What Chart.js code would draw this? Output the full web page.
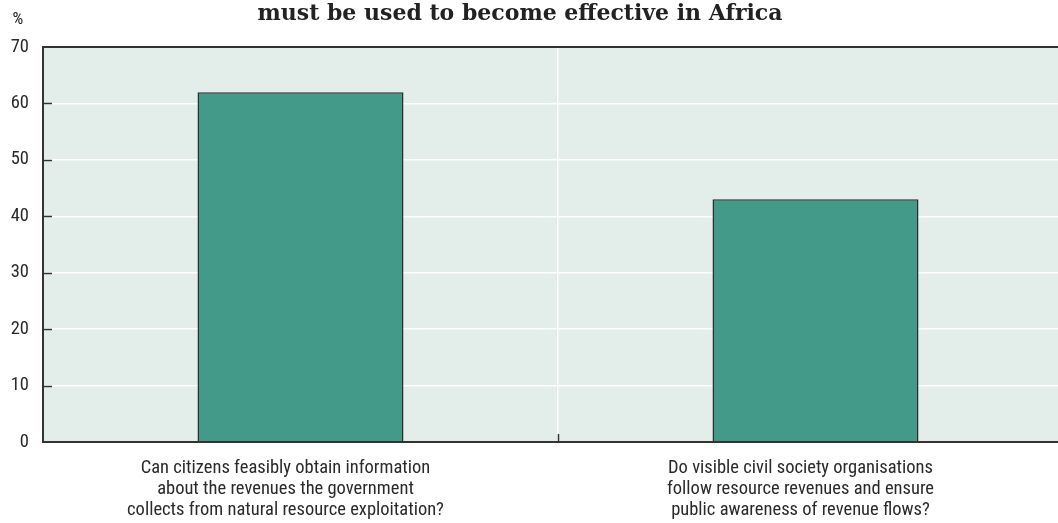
<!DOCTYPE html>
<html>
<head>
<meta charset="utf-8">
<script src="https://cdn.jsdelivr.net/npm/chart.js@4.4.0/dist/chart.umd.min.js"></script>
<style>
  html, body { margin: 0; padding: 0; background: #ffffff; overflow: hidden; }
  #wrap { width: 1058px; height: 523px; position: relative; overflow: hidden; }
  canvas { display: block; }
</style>
</head>
<body>
<div id="wrap"><canvas id="c" width="1073" height="523"></canvas></div>
<script>
const titleText = "must be used to become effective in Africa";
const unitLabel = "%";
const categories = [
  ["Can citizens feasibly obtain information", "about the revenues the government", "collects from natural resource exploitation?"],
  ["Do visible civil society organisations", "follow resource revenues and ensure", "public awareness of revenue flows?"]
];
const values = [62, 43];
const yTicks = [0, 10, 20, 30, 40, 50, 60, 70];

const labelFont = "'Liberation Sans Narrow', 'Roboto Condensed', 'Roboto', 'Liberation Sans', sans-serif";

const decorPlugin = {
  id: 'decor',
  beforeDraw(chart) {
    const { ctx, chartArea: a } = chart;
    // shift category labels slightly left, as in the reference
    const xs = chart.scales.x;
    const items = xs.getLabelItems();
    if (!xs._shifted) {
      items.forEach(it => { if (it.options && it.options.translation) it.options.translation[0] -= 15; });
      xs._shifted = true;
    }
    ctx.save();
    ctx.fillStyle = '#e3edea';
    ctx.fillRect(a.left, a.top, a.right - a.left, a.bottom - a.top);
    ctx.restore();
  },
  afterDatasetsDraw(chart) {
    const { ctx, chartArea: a } = chart;
    const ys = chart.scales.y;
    const xs = chart.scales.x;
    ctx.save();
    ctx.strokeStyle = '#333333';
    ctx.lineWidth = 1.5;
    yTicks.forEach(v => {
      if (v === 0 || v === 70) return;
      const py = Math.round(ys.getPixelForValue(v)) + 0.5;
      ctx.beginPath();
      ctx.moveTo(a.left, py);
      ctx.lineTo(a.left + 9, py);
      ctx.stroke();
    });
    for (let i = 0; i < categories.length - 1; i++) {
      const px = Math.round((xs.getPixelForValue(i) + xs.getPixelForValue(i + 1)) / 2) + 0.5;
      ctx.beginPath();
      ctx.moveTo(px, a.bottom);
      ctx.lineTo(px, a.bottom - 8);
      ctx.stroke();
    }
    ctx.lineWidth = 2;
    ctx.beginPath();
    ctx.moveTo(a.right + 20, a.top);
    ctx.lineTo(a.left, a.top);
    ctx.lineTo(a.left, a.bottom);
    ctx.lineTo(a.right + 20, a.bottom);
    ctx.stroke();
    ctx.fillStyle = '#222222';
    ctx.font = "17px " + labelFont;
    ctx.textAlign = 'center';
    ctx.textBaseline = 'middle';
    ctx.fillText(unitLabel, 18, 20);
    ctx.font = "bold 22px 'DejaVu Serif', 'Liberation Serif', serif";
    ctx.fillStyle = '#222222';
    ctx.fillText(titleText, 520, 14);
    ctx.restore();
  }
};

new Chart(document.getElementById('c'), {
  type: 'bar',
  data: {
    labels: categories,
    datasets: [{
      data: values,
      backgroundColor: '#449a89',
      borderColor: '#2d2d2d',
      borderWidth: 1.5,
      barPercentage: 0.4,
      categoryPercentage: 1.0
    }]
  },
  options: {
    responsive: false,
    animation: false,
    devicePixelRatio: 1,
    layout: { padding: { top: 47, right: 0, left: 0, bottom: 0 } },
    plugins: {
      legend: { display: false },
      title: { display: false },
      tooltip: { enabled: false }
    },
    scales: {
      x: {
        grid: { display: true, offset: true, color: '#ffffff', lineWidth: 1.5, drawTicks: false },
        border: { display: false },
        ticks: {
          color: '#2a2a2a',
          font: { family: labelFont, size: 18.5, lineHeight: 1.13 },
          padding: 16,
          maxRotation: 0,
          autoSkip: false
        },
        afterFit(scale) { scale.height = 81; }
      },
      y: {
        min: 0,
        max: 70,
        afterBuildTicks(scale) { scale.ticks = yTicks.map(v => ({ value: v })); },
        grid: { color: '#ffffff', lineWidth: 1.5, drawTicks: false },
        border: { display: false },
        ticks: {
          color: '#2a2a2a',
          font: { family: labelFont, size: 18.5 },
          padding: 14
        },
        afterFit(scale) { scale.width = 43; }
      }
    }
  },
  plugins: [decorPlugin]
});
</script>
</body>
</html>
